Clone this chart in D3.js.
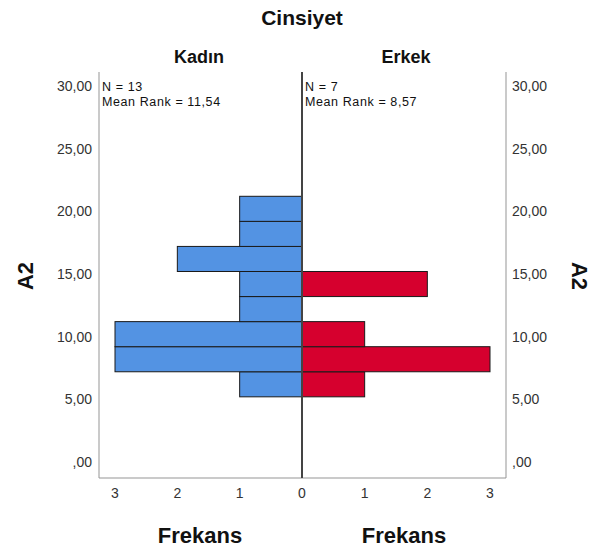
<!DOCTYPE html>
<html><head><meta charset="utf-8">
<script src="https://cdn.jsdelivr.net/npm/d3@7"></script>
<style>body{margin:0;background:#fff}svg{display:block}text{font-family:"Liberation Sans",Arial,sans-serif}</style>
</head><body><svg id="c" width="592" height="549"></svg>
<script>
const binStarts = [5.2, 7.2, 9.2, 11.2, 13.2, 15.2, 17.2, 19.2];
const binWidth = 2;
const kadinCounts = [1, 3, 3, 1, 1, 2, 1, 1];
const erkekCounts = [1, 3, 1, 0, 2, 0, 0, 0];
const yTicks = [0, 5, 10, 15, 20, 25, 30];
const xTicks = [0, 1, 2, 3];
const panels = [
  {name: "Kadın", n: 13, meanRank: "11,54", counts: kadinCounts, color: "#5393e3"},
  {name: "Erkek", n: 7, meanRank: "8,57", counts: erkekCounts, color: "#d6002e"}
];

(function(){
const svg = d3.select("#c");
const fTop = 72, fBottom = 478, fLeft = 99, mid = 302, fRight = 506;
const y = d3.scaleLinear().domain([0, 30]).range([462, 86]);
const xL = d3.scaleLinear().domain([0, 3]).range([mid, 115]);
const xR = d3.scaleLinear().domain([0, 3]).range([mid, 490]);

// frame
const frame = "#959595";
svg.append("line").attr("x1", fLeft).attr("x2", fLeft).attr("y1", fTop).attr("y2", fBottom).attr("stroke", frame);
svg.append("line").attr("x1", fRight).attr("x2", fRight).attr("y1", fTop).attr("y2", fBottom).attr("stroke", frame);
svg.append("line").attr("x1", fLeft).attr("x2", fRight).attr("y1", fBottom).attr("y2", fBottom).attr("stroke", frame);

// bars
const drawBars = (counts, x, color) => {
  svg.append("g").selectAll("rect").data(binStarts.map((s, i) => ({s, c: counts[i]})).filter(d => d.c > 0))
    .join("rect")
    .attr("x", d => Math.min(x(0), x(d.c)))
    .attr("width", d => Math.abs(x(d.c) - x(0)))
    .attr("y", d => y(d.s + binWidth))
    .attr("height", d => y(d.s) - y(d.s + binWidth))
    .attr("fill", color).attr("stroke", "#1a1a1a").attr("stroke-width", 1);
};
drawBars(kadinCounts, xL, panels[0].color);
drawBars(erkekCounts, xR, panels[1].color);

// center line
svg.append("line").attr("x1", mid).attr("x2", mid).attr("y1", fTop).attr("y2", fBottom).attr("stroke", "#444").attr("stroke-width", 2);

// y axis labels
const fmt = v => v === 0 ? ",00" : v.toFixed(2).replace(".", ",");
const ya = svg.append("g").attr("font-size", 14).attr("fill", "#333");
ya.selectAll("text.l").data(yTicks).join("text").attr("class", "l")
  .attr("x", 92).attr("y", d => y(d)).attr("dy", "0.35em").attr("text-anchor", "end").text(fmt);
ya.selectAll("text.r").data(yTicks).join("text").attr("class", "r")
  .attr("x", 512).attr("y", d => y(d)).attr("dy", "0.35em").attr("text-anchor", "start").text(fmt);

// x axis labels
const xa = svg.append("g").attr("font-size", 14).attr("fill", "#333").attr("text-anchor", "middle");
xa.selectAll("text.l").data(xTicks).join("text").attr("class", "l").attr("x", d => xL(d)).attr("y", 498).text(d => d);
xa.selectAll("text.r").data(xTicks.filter(d => d > 0)).join("text").attr("class", "r").attr("x", d => xR(d)).attr("y", 498).text(d => d);

// titles
svg.append("text").attr("x", 302).attr("y", 25).attr("text-anchor", "middle").attr("font-size", 21).attr("font-weight", "bold").attr("fill", "#111").text("Cinsiyet");
svg.append("text").attr("x", 199).attr("y", 63).attr("text-anchor", "middle").attr("font-size", 18).attr("font-weight", "bold").attr("fill", "#111").text(panels[0].name);
svg.append("text").attr("x", 406).attr("y", 63).attr("text-anchor", "middle").attr("font-size", 18).attr("font-weight", "bold").attr("fill", "#111").text(panels[1].name);
svg.append("text").attr("x", 200).attr("y", 543).attr("text-anchor", "middle").attr("font-size", 22).attr("font-weight", "bold").attr("fill", "#111").text("Frekans");
svg.append("text").attr("x", 404).attr("y", 543).attr("text-anchor", "middle").attr("font-size", 22).attr("font-weight", "bold").attr("fill", "#111").text("Frekans");
svg.append("text").attr("transform", "translate(33,276) rotate(-90)").attr("text-anchor", "middle").attr("font-size", 22).attr("font-weight", "bold").attr("fill", "#111").text("A2");
svg.append("text").attr("transform", "translate(572,276) rotate(90)").attr("text-anchor", "middle").attr("font-size", 22).attr("font-weight", "bold").attr("fill", "#111").text("A2");

// annotations
[[102, panels[0]], [305, panels[1]]].forEach(([x0, p]) => {
  const g = svg.append("g").attr("font-size", 12.5).attr("letter-spacing", 0.6).attr("fill", "#111");
  g.append("text").attr("x", x0).attr("y", 91).text("N = " + p.n);
  g.append("text").attr("x", x0).attr("y", 105.5).text("Mean Rank = " + p.meanRank);
});
})();
</script></body></html>
